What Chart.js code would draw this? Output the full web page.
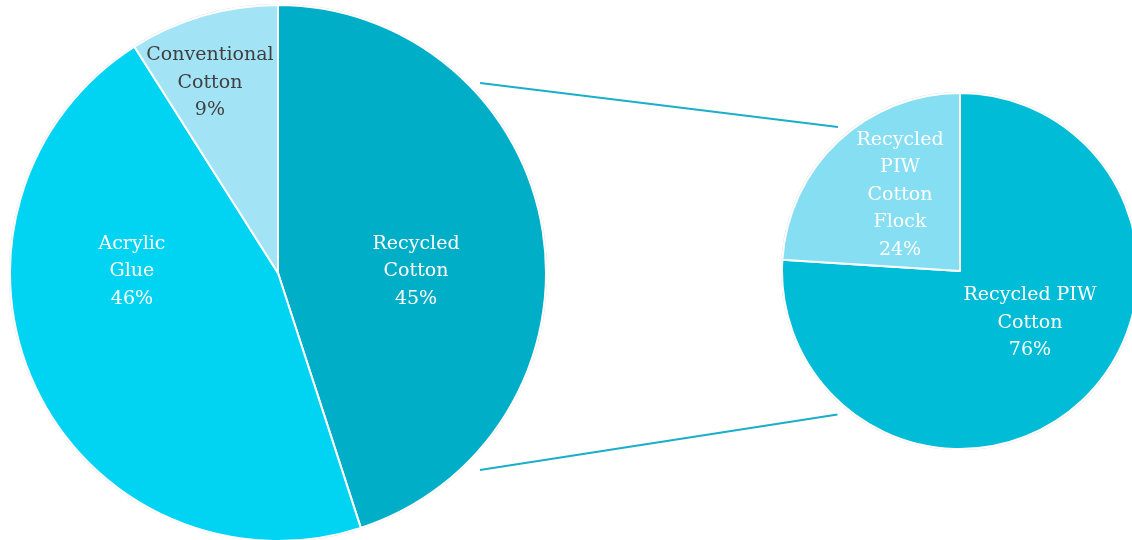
<!DOCTYPE html>
<html>
<head>
<meta charset="utf-8">
<script src="https://cdn.jsdelivr.net/npm/chart.js@4"></script>
<style>
  body { margin: 0; background: #fff; }
  #wrap { position: relative; width: 1132px; height: 540px; overflow: hidden; }
  #lines { position: absolute; left: 0; top: 0; }
  #leftBox { position: absolute; left: 9px; top: 4px; width: 538px; height: 538px; }
  #rightBox { position: absolute; left: 781px; top: 92px; width: 358px; height: 358px; }
</style>
</head>
<body>
<div id="wrap">
  <canvas id="lines" width="1132" height="540"></canvas>
  <div id="leftBox"><canvas id="leftPie"></canvas></div>
  <div id="rightBox"><canvas id="rightPie"></canvas></div>
</div>
<script>
// main composition
const mainLabels = ["Recycled\nCotton", "Acrylic\nGlue", "Conventional\nCotton"];
const mainValues = [45, 46, 9];
const mainColors = ["#00AEC7", "#00D4F2", "#A3E3F6"];
const mainText = ["#ffffff", "#ffffff", "#404040"];

// breakdown of recycled cotton
const subLabels = ["Recycled PIW\nCotton", "Recycled\nPIW\nCotton\nFlock"];
const subValues = [76, 24];
const subColors = ["#00BCD6", "#86DEF3"];
const subText = ["#ffffff", "#ffffff"];

const lineColor = "#1AAFC8";
const fontFamily = "'DejaVu Serif', serif";

// label anchor as fraction of radius from centre
const pieLabels = {
  id: "pieLabels",
  afterDatasetsDraw(chart, args, opts) {
    const ctx = chart.ctx;
    const meta = chart.getDatasetMeta(0);
    const data = chart.data.datasets[0].data;
    const total = data.reduce((a, b) => a + b, 0);
    ctx.save();
    ctx.font = opts.size + "px " + fontFamily;
    ctx.textAlign = "center";
    ctx.textBaseline = "middle";
    meta.data.forEach((arc, i) => {
      const r = arc.outerRadius;
      const cx = arc.x + opts.pos[i][0] * r;
      const cy = arc.y + opts.pos[i][1] * r;
      const lines = chart.data.labels[i].split("\n");
      lines.push(Math.round(data[i] / total * 100) + "%");
      const top = cy - (lines.length - 1) * opts.lineHeight / 2;
      ctx.fillStyle = opts.colors[i];
      lines.forEach((t, k) => ctx.fillText(t, cx, top + k * opts.lineHeight));
    });
    ctx.restore();
  }
};

const rimShade = {
  id: "rimShade",
  beforeDatasetsDraw(chart) {
    const arc = chart.getDatasetMeta(0).data[0];
    const ctx = chart.ctx;
    ctx.save();
    ctx.beginPath();
    ctx.arc(arc.x, arc.y, arc.outerRadius + 0.5, 0, Math.PI * 2);
    ctx.strokeStyle = "rgba(0,0,0,0.13)";
    ctx.lineWidth = 1.5;
    ctx.stroke();
    ctx.restore();
  }
};

function makePie(id, labels, values, colors, textColors, pos) {
  return new Chart(document.getElementById(id), {
    type: "pie",
    data: {
      labels: labels,
      datasets: [{
        data: values,
        backgroundColor: colors,
        borderColor: "#ffffff",
        borderWidth: 2
      }]
    },
    options: {
      responsive: true,
      maintainAspectRatio: false,
      animation: false,
      layout: { padding: 0 },
      plugins: {
        legend: { display: false },
        tooltip: { enabled: false },
        pieLabels: { size: 19, lineHeight: 27.5, colors: textColors, pos: pos }
      }
    },
    plugins: [rimShade, pieLabels]
  });
}

const left = makePie("leftPie", mainLabels, mainValues, mainColors, mainText,
  [[0.515, -0.007], [-0.545, -0.007], [-0.254, -0.709]]);
const right = makePie("rightPie", subLabels, subValues, subColors, subText,
  [[0.393, 0.292], [-0.337, -0.427]]);

// connector lines between the two pies
function drawConnectors() {
  const lc = document.getElementById("lines").getContext("2d");
  const wrap = document.getElementById("wrap").getBoundingClientRect();
  const pt = (chart, deg, k) => {
    const arc = chart.getDatasetMeta(0).data[0];
    const box = chart.canvas.getBoundingClientRect();
    const a = deg * Math.PI / 180;
    return [box.left - wrap.left + arc.x + Math.cos(a) * arc.outerRadius * k,
            box.top - wrap.top + arc.y + Math.sin(a) * arc.outerRadius * k];
  };
  const segs = [
    [pt(left, -43.25, 1.035), pt(right, -130.3, 1.06)],
    [pt(left, 44.3, 1.053), pt(right, 130.5, 1.06)]
  ];
  lc.strokeStyle = lineColor;
  lc.lineWidth = 2;
  segs.forEach(s => {
    lc.beginPath();
    lc.moveTo(s[0][0], s[0][1]);
    lc.lineTo(s[1][0], s[1][1]);
    lc.stroke();
  });
}
drawConnectors();
</script>
</body>
</html>
